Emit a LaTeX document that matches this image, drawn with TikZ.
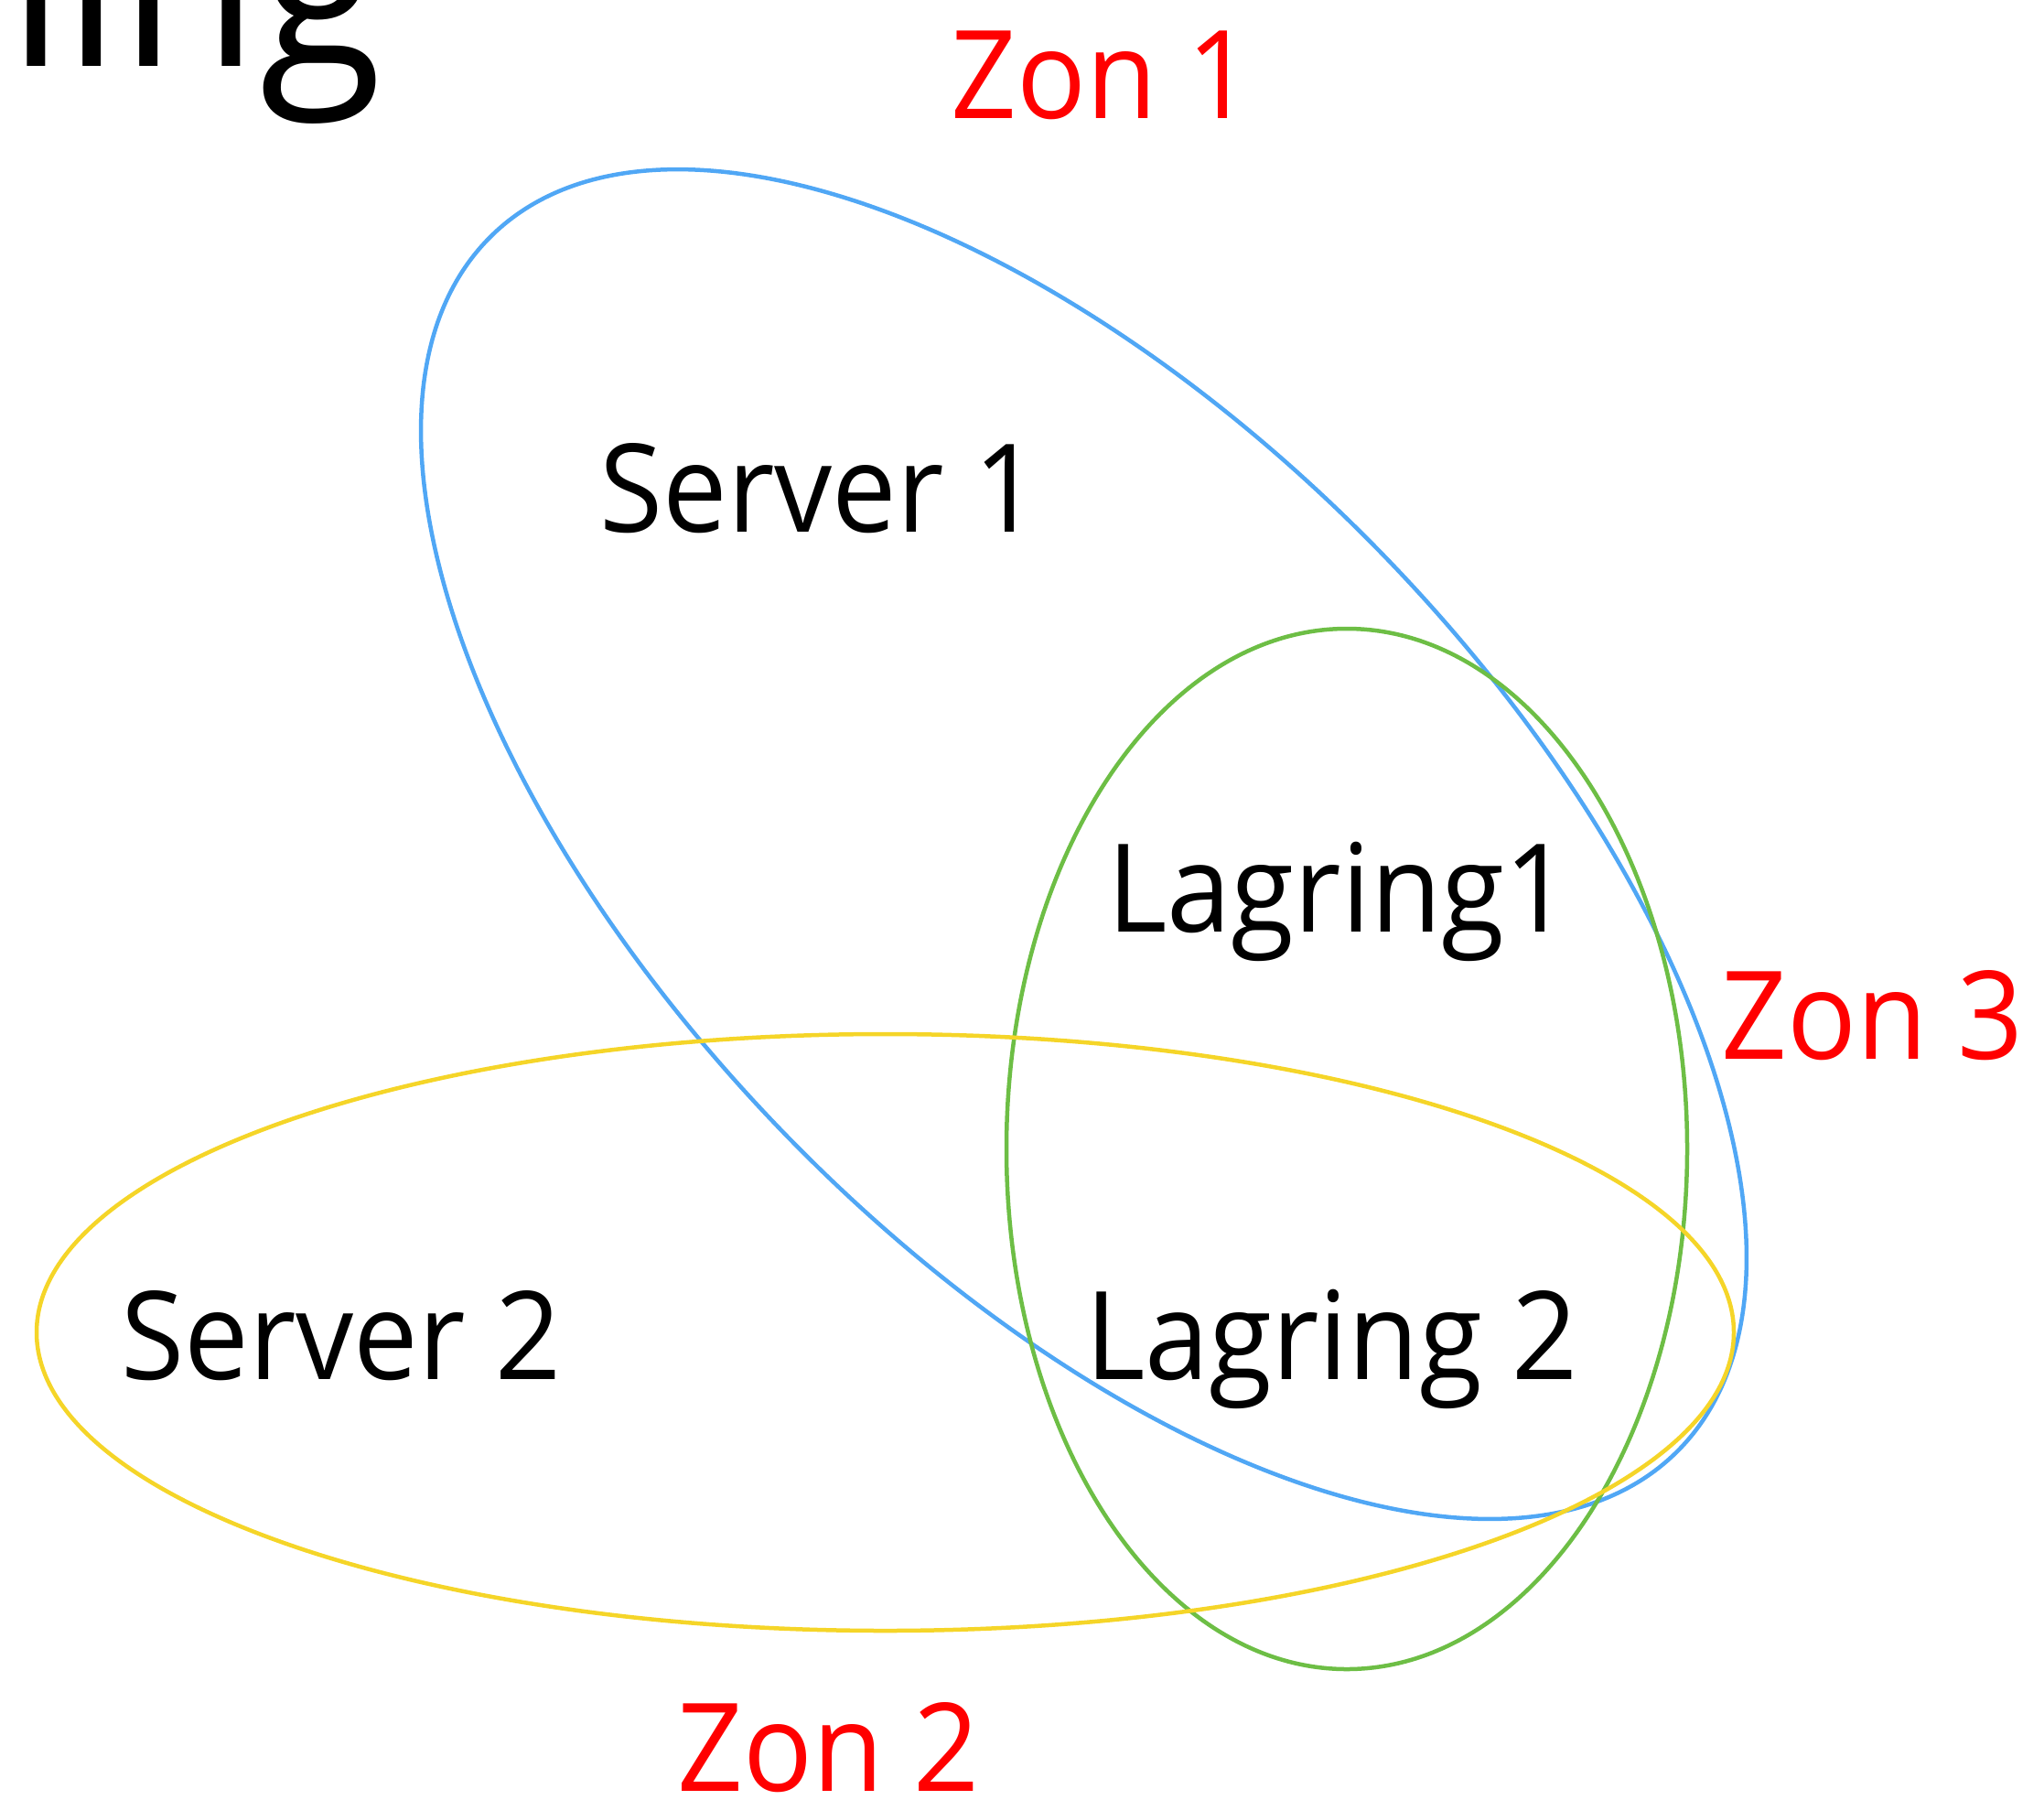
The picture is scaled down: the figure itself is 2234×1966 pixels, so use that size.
\documentclass[tikz,border=0pt]{standalone}
\usepackage{fontspec}
\setmainfont[FakeStretch=0.94]{Open Sans}
\usepackage{xcolor}
\usepackage{tikz}

\definecolor{ringblue}{RGB}{80,167,245}
\definecolor{ringgreen}{RGB}{109,190,69}
\definecolor{ringyellow}{RGB}{245,213,40}

\begin{document}
\begin{tikzpicture}[x=1pt, y=-1pt,
	ring/.style={line width=4.5pt},
	label/.style={inner sep=0pt, anchor=base, font=\fontsize{134}{160}\selectfont},
	zone/.style={label, text=red},]

\clip (0,0) rectangle (2234,1966);

% the zones
\draw [ring, ringblue, rotate around={-45.83:(1184.5,922.5)}] (1184.5,922.5) ellipse [x radius=928, y radius=455];
\draw [ring, ringgreen] (1472,1255.5) ellipse [x radius=372, y radius=568.5];
\draw [ring, ringyellow] (967.5,1456) ellipse [x radius=927.5, y radius=326];

% rest of the slide title
\node [inner sep=0pt, anchor=base east, font=\fontsize{262}{280}\selectfont] (title) at (418,72) {ning};

\node [zone] (zon1) at (1204.5,129) {Zon 1};
\node [zone] (zon2) at (906,1957) {Zon 2};
\node [zone] (zon3) at (2046.5,1157) {Zon 3};

\node [label] (srv1) at (896,581) {Server 1};
\node [label] (srv2) at (373,1507) {Server 2};
\node [label] (lag1) at (1463.5,1018) {Lagring1};
\node [label] (lag2) at (1455.5,1507) {Lagring 2};

\end{tikzpicture}
\end{document}
